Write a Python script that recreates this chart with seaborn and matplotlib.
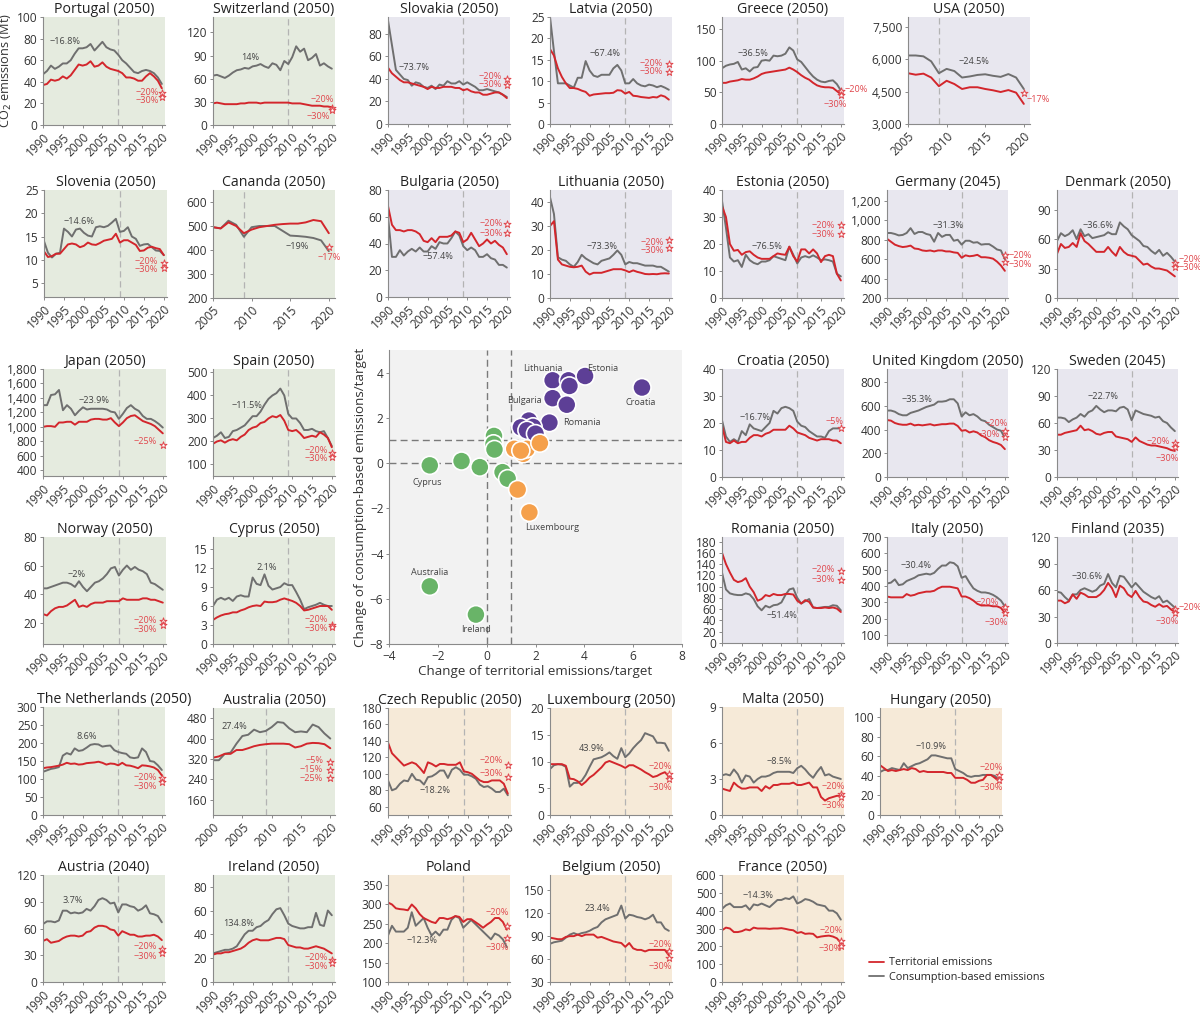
import matplotlib
matplotlib.use("Agg")
import matplotlib.pyplot as plt
from matplotlib.lines import Line2D
from matplotlib.ticker import FuncFormatter
import pandas as pd
import seaborn as sns

W, H = 1200, 1014
M = "\u2212"

YEARS_90 = list(range(1990, 2021))
YEARS_00 = list(range(2000, 2021))
YEARS_05 = list(range(2005, 2021))

# ---- territorial (terr) and consumption-based (cons) emissions, Mt CO2 ----
portugal_terr = [37, 38, 42, 41, 42, 45, 43, 46, 51, 56, 55, 56, 59, 54, 55, 58, 54, 52, 51, 50, 48, 44, 44, 43, 41, 41, 45, 48, 45, 41, 34]
portugal_cons = [47, 50, 55, 52, 54, 57, 57, 60, 66, 71, 71, 72, 75, 69, 73, 77, 72, 70, 69, 65, 60, 57, 53, 49, 48, 50, 51, 50, 48, 44, 38]
switzerland_terr = [28, 29, 28, 27, 27, 27, 27, 28, 28, 29, 29, 29, 28, 29, 29, 29, 29, 29, 29, 29, 28, 28, 28, 27, 26, 25, 25, 25, 24, 24, 23]
switzerland_cons = [64, 65, 63, 61, 64, 68, 71, 72, 74, 73, 76, 77, 79, 76, 74, 80, 78, 71, 83, 79, 88, 102, 95, 99, 84, 87, 92, 77, 80, 76, 73]
slovakia_terr = [50, 45, 42, 39, 37, 37, 36, 35, 34, 33, 31, 33, 32, 32, 33, 33, 33, 32, 32, 30, 31, 29, 28, 28, 26, 26, 27, 28, 28, 26, 23]
slovakia_cons = [92, 70, 48, 44, 40, 39, 34, 37, 36, 33, 32, 34, 31, 35, 34, 38, 36, 36, 38, 35, 37, 35, 33, 30, 30, 31, 30, 29, 28, 26, 24]
latvia_terr = [17.5, 16, 13, 11, 9.5, 8.4, 8.4, 8.2, 7.8, 7.5, 6.6, 6.9, 7, 7.1, 7.2, 7.2, 7.3, 7.9, 7.8, 7.1, 7.5, 6.6, 6.5, 6.3, 6.2, 6.1, 6.3, 6.2, 6.7, 6.4, 5.7]
latvia_cons = [25, 17, 9.5, 9.5, 9.5, 9, 8.5, 10.8, 10.8, 14.7, 12.5, 11.3, 11, 11.5, 11.5, 11.5, 13, 13.8, 12.5, 9.5, 9.5, 10.5, 9.5, 9, 8.8, 9.2, 9, 8.6, 8.9, 8.5, 8]
greece_terr = [65, 65, 67, 68, 69, 71, 70, 70, 72, 75, 79, 81, 82, 83, 84, 85, 86, 89, 86, 82, 77, 73, 70, 65, 61, 59, 58, 58, 57, 52, 47]
greece_cons = [88, 92, 94, 95, 98, 86, 88, 83, 89, 90, 100, 101, 100, 108, 107, 108, 111, 121, 116, 102, 98, 90, 82, 75, 70, 67, 66, 68, 69, 63, 53]
usa_terr = [5350, 5280, 5330, 5150, 4750, 5000, 4850, 4620, 4700, 4700, 4620, 4560, 4480, 4570, 4450, 3930]
usa_cons = [6170, 6170, 6130, 5900, 5350, 5550, 5450, 5150, 5200, 5270, 5300, 5230, 5180, 5310, 5150, 4620]
slovenia_terr = [11.8, 10.6, 10.8, 11.3, 11.3, 12.3, 13.3, 13.5, 13.3, 12.7, 13, 13.7, 13.3, 13.2, 13.6, 14.1, 14.3, 14.5, 15.6, 13.7, 14.2, 14.2, 13.7, 13.2, 11.9, 12, 12.6, 12.8, 12.5, 12.3, 11]
slovenia_cons = [14, 11.5, 10.5, 11.3, 11.5, 16.7, 16, 15, 16.5, 16.7, 15.8, 15.2, 15, 17, 17.2, 17, 17.3, 18, 18.8, 16, 16.2, 17, 15, 14.5, 13, 13.3, 13.4, 12.7, 12, 11.9, 11]
canada_terr = [495, 490, 515, 500, 470, 485, 495, 500, 505, 508, 510, 510, 515, 525, 520, 470]
canada_cons = [495, 490, 522, 505, 455, 495, 500, 500, 500, 480, 460, 458, 455, 450, 440, 395]
bulgaria_terr = [68, 54, 50, 50, 49, 50, 50, 49, 47, 42, 41, 44, 41, 45, 45, 45, 46, 49, 48, 41, 43, 48, 43, 38, 40, 43, 40, 42, 39, 37, 32]
bulgaria_cons = [60, 30, 30, 35, 31, 34, 36, 34, 37, 34, 34, 38, 36, 41, 40, 40, 44, 49, 46, 38, 35, 37, 35, 30, 30, 32, 29, 28, 24, 24, 22]
lithuania_terr = [30, 32, 16, 14, 13.5, 13, 12.8, 13, 13.5, 11, 9.8, 10.5, 10.5, 10.5, 11, 11.5, 12, 12, 12, 11.5, 10.8, 11.5, 10.9, 10.5, 10, 9.9, 10, 9.9, 10.2, 10.3, 10.2]
lithuania_cons = [42, 35, 17, 16, 15.5, 14, 13, 15, 18, 16.5, 15.5, 14.5, 14, 15.5, 16, 16.5, 18, 19.8, 18, 14, 15, 14.5, 14.5, 14, 13.5, 13.5, 13.5, 13, 13, 12, 11]
estonia_terr = [34, 30, 20, 17.5, 17.8, 16, 17, 17.3, 16, 15, 14.5, 14.5, 14.5, 15.5, 16.5, 16.2, 16, 19, 15.5, 13.5, 18, 18, 16.5, 18, 16.5, 13.3, 15.5, 16, 15.5, 9, 6.5]
estonia_cons = [36, 26, 15, 13.5, 14, 11.5, 16, 14, 13, 12.5, 13.5, 13.5, 14, 15.5, 15, 14.5, 14, 19, 16, 12.8, 15, 15.5, 15, 15.8, 15, 14, 14.3, 14, 13.5, 9, 8]
germany_terr = [810, 780, 750, 735, 725, 730, 740, 710, 705, 690, 685, 690, 680, 690, 690, 680, 680, 670, 665, 615, 640, 630, 635, 645, 620, 620, 615, 605, 575, 535, 480]
germany_cons = [870, 870, 860, 845, 850, 870, 920, 860, 880, 880, 860, 850, 780, 870, 830, 850, 850, 790, 800, 750, 790, 790, 770, 775, 750, 755, 755, 730, 700, 690, 600]
denmark_terr = [45, 55, 51, 52, 56, 52, 66, 58, 55, 51, 47, 47, 47, 52, 47, 43, 52, 47, 44, 43, 42, 38, 34, 35, 32, 30, 30, 29, 28, 25, 22]
denmark_cons = [58, 66, 63, 65, 69, 60, 70, 63, 65, 61, 62, 63, 64, 67, 65, 65, 77, 73, 70, 64, 61, 58, 53, 52, 48, 45, 49, 43, 46, 42, 37]
japan_terr = [1000, 1010, 1010, 1000, 1060, 1060, 1070, 1070, 1030, 1070, 1070, 1070, 1100, 1110, 1110, 1100, 1100, 1120, 1060, 1010, 1060, 1120, 1150, 1160, 1120, 1080, 1060, 1040, 1010, 960, 910]
japan_cons = [1300, 1300, 1440, 1450, 1510, 1230, 1300, 1250, 1160, 1220, 1270, 1240, 1250, 1250, 1250, 1250, 1240, 1210, 1200, 1110, 1180, 1260, 1300, 1250, 1220, 1150, 1110, 1110, 1080, 1040, 990]
spain_terr = [190, 200, 205, 195, 205, 210, 205, 220, 230, 250, 260, 265, 280, 285, 300, 310, 305, 315, 290, 250, 245, 250, 235, 215, 220, 225, 220, 240, 230, 215, 175]
spain_cons = [215, 225, 240, 215, 220, 245, 250, 260, 270, 290, 310, 310, 330, 360, 385, 400, 410, 430, 400, 320, 300, 300, 280, 250, 250, 255, 245, 240, 245, 215, 180]
norway_terr = [26, 25, 28, 30, 31, 31, 32, 34, 36, 31, 32, 31, 33, 34, 34, 34, 35, 35, 35, 35, 37, 36, 36, 36, 36, 37, 37, 36, 36, 35, 34]
norway_cons = [44, 44, 45, 46, 47, 48, 48, 47, 45, 49, 45, 42, 45, 48, 49, 51, 54, 58, 59, 53, 57, 60, 57, 59, 57, 56, 54, 48, 47, 45, 43]
cyprus_terr = [3.8, 4.2, 4.5, 4.7, 4.8, 5, 5, 5.3, 5.5, 5.8, 6, 6.1, 6, 6.7, 6.6, 6.6, 6.7, 7, 7.2, 7, 6.8, 6.5, 6, 5.3, 5.4, 5.6, 5.8, 6, 6, 6, 5.4]
cyprus_cons = [6, 7, 7.3, 7, 7.3, 6.8, 7.5, 7.7, 7.5, 7.5, 10.5, 9.5, 9.3, 11, 9.2, 8.6, 8.8, 9, 9.6, 9.3, 9.3, 8.2, 7, 5.5, 5.8, 6, 6.2, 6.5, 6.2, 6, 6]
croatia_terr = [19, 13, 12.5, 13.5, 12.5, 13, 13, 14.5, 15.5, 15.5, 15, 16, 16.5, 17.5, 17.5, 17.5, 17.5, 19, 18, 16.5, 16, 15.5, 14.5, 14, 13.5, 14, 14, 14, 13.5, 13.5, 12.5]
croatia_cons = [21, 15, 13, 14, 13, 17, 15.5, 19.5, 18, 17.5, 17, 18.5, 20, 24.5, 23.5, 25.5, 26, 25.5, 24.5, 20.5, 19, 18.5, 17, 16, 15, 15, 14.5, 17, 18, 18, 18]
uk_terr = [480, 475, 455, 445, 440, 440, 450, 435, 440, 435, 440, 445, 435, 440, 445, 445, 450, 450, 430, 390, 395, 375, 385, 375, 350, 335, 310, 295, 285, 270, 235]
uk_cons = [560, 560, 550, 530, 520, 520, 540, 550, 560, 575, 590, 600, 610, 635, 635, 640, 655, 655, 620, 510, 545, 520, 530, 510, 480, 470, 440, 420, 400, 390, 330]
sweden_terr = [47, 47, 49, 50, 51, 52, 57, 52, 53, 51, 48, 47, 49, 50, 50, 45, 44, 43, 42, 39, 44, 40, 38, 36, 35, 35, 34, 33, 32, 30, 29]
sweden_cons = [66, 66, 65, 61, 64, 66, 70, 67, 72, 74, 79, 75, 72, 74, 74, 73, 77, 78, 75, 63, 74, 72, 70, 69, 68, 66, 67, 62, 60, 55, 51]
romania_terr = [160, 140, 125, 112, 108, 110, 115, 100, 90, 75, 78, 85, 83, 87, 85, 85, 87, 87, 86, 75, 70, 76, 73, 63, 62, 62, 63, 62, 63, 61, 55]
romania_cons = [125, 95, 88, 86, 85, 85, 88, 86, 78, 65, 58, 66, 63, 67, 68, 72, 85, 95, 97, 80, 70, 74, 78, 63, 62, 63, 64, 64, 67, 66, 58]
italy_terr = [335, 330, 330, 330, 330, 350, 340, 345, 355, 360, 365, 365, 370, 385, 395, 395, 395, 390, 385, 335, 335, 325, 310, 290, 280, 280, 280, 275, 275, 265, 235]
italy_cons = [415, 420, 440, 405, 410, 430, 440, 450, 465, 470, 475, 470, 480, 505, 525, 525, 545, 540, 520, 450, 460, 420, 385, 370, 360, 360, 355, 345, 330, 310, 275]
finland_terr = [48, 48, 45, 47, 55, 50, 57, 55, 52, 52, 52, 55, 60, 68, 62, 52, 65, 62, 55, 52, 59, 52, 47, 46, 43, 41, 44, 41, 42, 38, 35]
finland_cons = [58, 57, 52, 48, 55, 55, 60, 62, 60, 58, 60, 65, 67, 78, 68, 63, 76, 75, 69, 63, 68, 63, 58, 55, 52, 50, 53, 46, 48, 44, 40]
netherlands_terr = [130, 132, 133, 135, 137, 140, 145, 142, 143, 140, 141, 144, 145, 146, 148, 145, 140, 143, 142, 138, 145, 138, 137, 134, 130, 138, 137, 135, 132, 125, 110]
netherlands_cons = [120, 124, 128, 130, 133, 165, 172, 168, 185, 178, 180, 187, 195, 197, 196, 190, 192, 193, 180, 175, 172, 170, 160, 158, 160, 185, 175, 150, 148, 138, 125]
australia_terr = [325, 330, 340, 340, 355, 355, 362, 370, 375, 378, 380, 380, 380, 378, 365, 370, 380, 383, 382, 378, 362]
australia_cons = [315, 315, 340, 345, 380, 410, 415, 435, 425, 430, 445, 465, 462, 440, 425, 428, 425, 455, 445, 420, 400]
austria_terr = [46, 48, 44, 45, 46, 49, 51, 52, 52, 51, 52, 56, 57, 61, 63, 63, 62, 59, 58, 52, 57, 55, 53, 53, 51, 51, 52, 52, 53, 51, 47]
austria_cons = [65, 68, 68, 67, 69, 80, 80, 77, 78, 77, 78, 82, 80, 85, 92, 94, 92, 88, 89, 78, 87, 87, 85, 84, 80, 82, 86, 77, 76, 74, 67]
ireland_terr = [23, 24, 24, 25, 25, 26, 27, 28, 30, 33, 35, 36, 35, 35, 35, 36, 37, 37, 36, 31, 30, 29, 29, 28, 28, 29, 30, 29, 28, 26, 24]
ireland_cons = [24, 25, 26, 27, 27, 28, 30, 35, 40, 43, 43, 46, 47, 50, 52, 57, 61, 62, 56, 49, 47, 46, 45, 45, 46, 46, 58, 48, 47, 60, 56]
czech_terr = [138, 125, 120, 115, 110, 112, 114, 112, 107, 101, 114, 112, 109, 112, 112, 111, 111, 111, 114, 103, 102, 100, 96, 92, 90, 90, 92, 92, 92, 88, 76]
czech_cons = [92, 80, 82, 88, 92, 91, 100, 93, 92, 87, 96, 97, 100, 104, 104, 95, 105, 108, 105, 99, 99, 97, 94, 87, 84, 85, 82, 78, 78, 82, 74]
luxembourg_terr = [9.5, 9.5, 9.5, 9.5, 9.2, 6.8, 6.7, 6.3, 5.6, 6.2, 7, 7.5, 8.2, 8.9, 9.8, 10.1, 9.8, 9.5, 9.2, 8.8, 9.3, 9.3, 8.9, 8.5, 8, 7.6, 7.1, 7.3, 7.7, 8, 7.2]
luxembourg_cons = [8.6, 9.3, 9.5, 9.4, 9, 5.3, 6, 6, 6.4, 7.5, 9, 10.4, 10.6, 10.8, 11.2, 11.7, 11, 10.5, 12.5, 10.8, 11.5, 12.5, 13.3, 14, 15.3, 15, 14.7, 13.5, 13.5, 13.4, 12]
malta_terr = [2.2, 2.1, 2, 2.7, 2.4, 2.2, 2.2, 2.3, 2.3, 2.3, 2, 2.4, 2.2, 2.5, 2.5, 2.6, 2.6, 2.6, 2.7, 2.5, 2.5, 2.6, 2.7, 2.3, 2.3, 1.5, 1.2, 1.4, 1.5, 1.6, 1.6]
malta_cons = [3.3, 3.4, 3.3, 3.8, 3.4, 2.7, 3.3, 3.2, 2.7, 3, 3.2, 3.2, 3.3, 3.5, 3.6, 3.6, 3.6, 3.6, 3.5, 3.9, 4.1, 3.8, 3.4, 3.1, 3.6, 4, 3.3, 3.4, 3.2, 3.1, 3]
hungary_terr = [51, 48, 45, 46, 45, 46, 47, 46, 48, 47, 44, 45, 44, 44, 44, 44, 44, 43, 43, 38, 38, 38, 36, 33, 33, 35, 36, 41, 41, 38, 35]
hungary_cons = [44, 46, 46, 48, 47, 46, 53, 48, 50, 52, 53, 55, 57, 61, 61, 60, 59, 58, 58, 47, 45, 43, 40, 39, 40, 40, 41, 41, 41, 40, 36]
poland_terr = [305, 300, 290, 288, 287, 285, 300, 290, 275, 265, 260, 255, 252, 265, 265, 262, 265, 270, 268, 255, 262, 262, 255, 248, 240, 248, 255, 265, 265, 255, 235]
poland_cons = [220, 245, 230, 230, 230, 240, 280, 245, 255, 265, 240, 220, 230, 220, 235, 235, 260, 270, 265, 240, 250, 260, 250, 240, 230, 220, 210, 225, 220, 210, 190]
belgium_terr = [88, 87, 86, 86, 89, 90, 90, 92, 90, 92, 92, 92, 88, 89, 87, 85, 83, 82, 81, 76, 81, 74, 72, 72, 70, 72, 72, 72, 72, 72, 65]
belgium_cons = [80, 82, 83, 84, 88, 92, 94, 92, 94, 95, 97, 100, 102, 108, 112, 114, 116, 118, 130, 113, 118, 117, 115, 114, 112, 114, 118, 108, 108, 100, 97]
france_terr = [290, 305, 300, 280, 280, 285, 295, 290, 305, 300, 300, 300, 298, 300, 300, 302, 298, 293, 290, 275, 280, 270, 272, 270, 250, 255, 258, 260, 255, 245, 220]
france_cons = [410, 430, 440, 420, 420, 420, 430, 405, 435, 430, 440, 430, 420, 440, 460, 460, 470, 465, 480, 440, 450, 465, 460, 450, 435, 430, 425, 400, 400, 385, 350]

# ---- scatter: change of emissions relative to target ----
scatter_territorial = [-2.33, -1.03, -0.28, 0.30, 0.30, 0.30, 0.28, 0.32, 0.65, 0.86, -2.33, -0.44,
                       2.70, 3.35, 3.39, 4.03, 6.36, 2.70, 3.28, 2.57, 1.73, 1.54, 1.40, 2.05, 1.90, 1.65, 2.00,
                       1.13, 1.50, 1.64, 2.18, 1.27, 1.75, 1.40]
scatter_consumption = [-0.10, 0.09, -0.18, 1.00, 0.70, 1.20, 0.85, 0.60, -0.40, -0.69, -5.45, -6.70,
                       3.66, 3.66, 3.41, 3.85, 3.34, 2.87, 2.58, 1.79, 1.88, 1.51, 1.58, 1.14, 1.60, 1.45, 1.30,
                       0.63, 0.41, 0.63, 0.88, -1.17, -2.18, 0.55]
scatter_group = ["green"] * 12 + ["purple"] * 15 + ["orange"] * 7
scatter_names = ["Lithuania", "Estonia", "Bulgaria", "Croatia", "Romania", "Cyprus", "Luxembourg", "Australia", "Ireland"]
scatter_name_x = [2.3, 4.75, 1.55, 6.3, 3.9, -2.45, 2.7, -2.33, -0.44]
scatter_name_y = [4.2, 4.2, 2.75, 2.68, 1.8, -0.88, -2.84, -4.82, -7.36]

RED = "#d3262c"
GREY = "#6f6f6f"
TXT_RED = "#e0474d"
BG = {"g": "#e5ebdf", "p": "#e8e7ef", "o": "#f6ead8"}

T = lambda s: s.replace("-", M)

panels = [
    # title, years, terr, cons, bg, box(l,t,r,b px), ylim, yticks, pct(text,x,y), targets, labels
    ("Portugal (2050)", YEARS_90, portugal_terr, portugal_cons, "g", (43, 17, 165, 125), (0, 100), range(0, 101, 20),
     ("-16.8%", 1995.5, 77), [29.6, 25.9], [("-20%", 2019.2, 30.5, "right"), ("-30%", 2019.2, 23, "right")]),
    ("Switzerland (2050)", YEARS_90, switzerland_terr, switzerland_cons, "g", (213, 17, 335, 125), (0, 140), range(0, 121, 30),
     ("14%", 1999.5, 88), [22.4, 19.6], [("-20%", 2020.6, 33, "right"), ("-30%", 2019.5, 10.8, "right")]),
    ("Slovakia (2050)", YEARS_90, slovakia_terr, slovakia_cons, "p", (388, 17, 510, 124), (0, 95), range(0, 81, 20),
     ("-73.7%", 1996.5, 50), [40, 35], [("-20%", 2018.7, 42, "right"), ("-30%", 2018.7, 35.5, "right")]),
    ("Latvia (2050)", YEARS_90, latvia_terr, latvia_cons, "p", (550, 17, 672, 124), (0, 25), range(0, 26, 5),
     ("-67.4%", 2003.9, 16.4), [14, 12.25], [("-20%", 2018.6, 14.2, "right"), ("-30%", 2018.6, 12.2, "right")]),
    ("Greece (2050)", YEARS_90, greece_terr, greece_cons, "p", (722, 17, 844, 124), (0, 169), range(0, 151, 50),
     ("-36.5%", 1997.8, 112), [52, 45.5], [("-20%", 2021, 54, "left"), ("-30%", 2018.7, 31, "center")]),
    ("USA (2050)", YEARS_05, usa_terr, usa_cons, "p", (908, 17, 1030, 124), (3000, 7950), range(3000, 7501, 1500),
     ("-24.5%", 2013.6, 5870), [4440], [("-17%", 2020.4, 4150, "left")]),

    ("Slovenia (2050)", YEARS_90, slovenia_terr, slovenia_cons, "g", (44, 190, 167, 297), (2, 25), range(5, 26, 5),
     ("-14.6%", 1998.7, 18.2), [9.4, 8.3], [("-20%", 2018.6, 9.7, "right"), ("-30%", 2018.6, 8.0, "right")]),
    ("Cananda (2050)", YEARS_05, canada_terr, canada_cons, "g", (213, 190, 335, 298), (200, 650), range(200, 601, 100),
     ("-19%", 2015.9, 413), [411], [("-17%", 2020, 367, "center")]),
    ("Bulgaria (2050)", YEARS_90, bulgaria_terr, bulgaria_cons, "p", (388, 190, 510, 297), (0, 80), range(0, 81, 20),
     ("-57.4%", 2002.5, 30), [54.4, 47.6], [("-20%", 2019, 54.6, "right"), ("-30%", 2019, 47.8, "right")]),
    ("Lithuania (2050)", YEARS_90, lithuania_terr, lithuania_cons, "p", (550, 190, 672, 298), (0, 45), range(0, 41, 10),
     ("-73.3%", 2003.1, 21.3), [24, 21], [("-20%", 2018.7, 23.3, "right"), ("-30%", 2018.7, 19.6, "right")]),
    ("Estonia (2050)", YEARS_90, estonia_terr, estonia_cons, "p", (722, 190, 844, 298), (0, 40), range(0, 41, 10),
     ("-76.5%", 2001.3, 19), [27.2, 23.8], [("-20%", 2018.6, 26.9, "right"), ("-30%", 2018.6, 23.5, "right")]),
    ("Germany (2045)", YEARS_90, germany_terr, germany_cons, "p", (887, 190, 1008, 298), (200, 1313), range(200, 1201, 200),
     ("-31.3%", 2005.5, 942), [648, 567], [("-20%", 2021, 643, "left"), ("-30%", 2021, 550, "left")]),
    ("Denmark (2050)", YEARS_90, denmark_terr, denmark_cons, "p", (1057, 190, 1178, 298), (0, 110), range(0, 91, 30),
     ("-36.6%", 2000.4, 73.6), [36, 31.5], [("-20%", 2021, 38.8, "left"), ("-30%", 2021, 30.7, "left")]),

    ("Japan (2050)", YEARS_90, japan_terr, japan_cons, "g", (43, 369, 166, 476), (320, 1800), range(400, 1801, 200),
     ("-23.9%", 2002.7, 1360), [750], [("-25%", 2018.5, 792, "right")]),
    ("Spain (2050)", YEARS_90, spain_terr, spain_cons, "g", (213, 369, 335, 476), (50, 515), range(100, 501, 100),
     ("-11.5%", 1998.6, 355), [152, 133], [("-20%", 2019, 162, "right"), ("-30%", 2019, 126, "right")]),
    ("Croatia (2050)", YEARS_90, croatia_terr, croatia_cons, "p", (722, 369, 844, 477), (0, 40), range(0, 41, 10),
     ("-16.7%", 1998.3, 22.2), [18], [("-5%", 2018.5, 20.7, "center")]),
    ("United Kingdom (2050)", YEARS_90, uk_terr, uk_cons, "p", (887, 369, 1008, 477), (0, 910), range(0, 801, 200),
     ("-35.3%", 1997.6, 657), [384, 336], [("-20%", 2020.7, 455, "right"), ("-30%", 2018.8, 354, "right")]),
    ("Sweden (2045)", YEARS_90, sweden_terr, sweden_cons, "p", (1057, 369, 1178, 477), (0, 120), range(0, 121, 30),
     ("-22.7%", 2001.7, 89), [37.6, 32.9], [("-20%", 2018.7, 40, "right"), ("-30%", 2018, 21, "center")]),

    ("Norway (2050)", YEARS_90, norway_terr, norway_cons, "g", (43, 537, 166, 644), (5, 80), range(20, 81, 20),
     ("-2%", 1998.5, 54), [20.8, 18.2], [("-20%", 2018.6, 21.5, "right"), ("-30%", 2018.6, 15, "right")]),
    ("Cyprus (2050)", YEARS_90, cyprus_terr, cyprus_cons, "g", (213, 537, 335, 644), (0, 16.9), range(0, 16, 3),
     ("2.1%", 2003.6, 12.1), [3.04, 2.66], [("-20%", 2019, 3.8, "right"), ("-30%", 2019, 2.4, "right")]),
    ("Romania (2050)", YEARS_90, romania_terr, romania_cons, "p", (722, 537, 844, 643), (0, 188), range(0, 181, 20),
     ("-51.4%", 2005.1, 48), [128, 112], [("-20%", 2018.6, 129.7, "right"), ("-30%", 2018.6, 112, "right")]),
    ("Italy (2050)", YEARS_90, italy_terr, italy_cons, "p", (887, 537, 1008, 643), (50, 700), range(100, 701, 100),
     ("-30.4%", 1997.4, 527), [268, 234.5], [("-20%", 2018.5, 297, "right"), ("-30%", 2017.8, 173, "center")]),
    ("Finland (2035)", YEARS_90, finland_terr, finland_cons, "p", (1057, 537, 1178, 643), (0, 120), range(0, 121, 30),
     ("-30.6%", 1997.6, 75), [38.4, 33.6], [("-20%", 2021, 40, "left"), ("-30%", 2018, 24.5, "center")]),

    ("The Netherlands (2050)", YEARS_90, netherlands_terr, netherlands_cons, "g", (43, 707, 165, 815), (0, 300), range(0, 301, 50),
     ("8.6%", 2001, 217), [104, 91], [("-20%", 2018.7, 104, "right"), ("-30%", 2018.7, 79, "right")]),
    ("Australia (2050)", YEARS_00, australia_terr, australia_cons, "g", (213, 708, 335, 815), (100, 520), range(160, 481, 80),
     ("27.4%", 2003.6, 446), [309, 276, 244], [("-5%", 2018.8, 312, "right"), ("-15%", 2018.8, 277, "right"), ("-25%", 2018.8, 242, "right")]),
    ("Czech Republic (2050)", YEARS_90, czech_terr, czech_cons, "o", (388, 708, 511, 815), (50, 180), range(60, 181, 20),
     ("-18.2%", 2001.9, 80), [110.4, 96.6], [("-20%", 2018.7, 116, "right"), ("-30%", 2018.7, 100, "right")]),
    ("Luxembourg (2050)", YEARS_90, luxembourg_terr, luxembourg_cons, "o", (550, 708, 672, 815), (0, 20), range(0, 21, 5),
     ("43.9%", 2000.6, 12.5), [7.6, 6.65], [("-20%", 2020.7, 9, "right"), ("-30%", 2020.7, 5.2, "right")]),
    ("Malta (2050)", YEARS_90, malta_terr, malta_cons, "o", (722, 707, 844, 815), (0, 9), range(0, 10, 3),
     ("-8.5%", 2004.4, 4.44), [1.76, 1.54], [("-20%", 2018.2, 2.4, "center"), ("-30%", 2018, 0.75, "center")]),
    ("Hungary (2050)", YEARS_90, hungary_terr, hungary_cons, "o", (880, 708, 1002, 815), (0, 109.5), range(0, 101, 20),
     ("-10.9%", 2003, 70.6), [40.8, 35.7], [("-20%", 2018, 48.4, "center"), ("-30%", 2018, 28, "center")]),

    ("Austria (2040)", YEARS_90, austria_terr, austria_cons, "g", (43, 875, 165, 982), (0, 120), range(0, 121, 30),
     ("3.7%", 1997.5, 91), [36.8, 32.2], [("-20%", 2018.7, 39.6, "right"), ("-30%", 2018.7, 28.4, "right")]),
    ("Ireland (2050)", YEARS_90, ireland_terr, ireland_cons, "g", (213, 875, 335, 982), (0, 89.8), range(0, 81, 20),
     ("134.8%", 1996.6, 49.4), [18.4, 16.1], [("-20%", 2019, 20.8, "right"), ("-30%", 2019, 12.6, "right")]),
    ("Poland", YEARS_90, poland_terr, poland_cons, "o", (388, 875, 510, 982), (100, 376), range(100, 351, 50),
     ("-12.3%", 1998.5, 206), [244, 213.5], [("-20%", 2020.5, 278, "right"), ("-30%", 2020.5, 188, "right")]),
    ("Belgium (2050)", YEARS_90, belgium_terr, belgium_cons, "o", (550, 875, 672, 982), (30, 170), range(30, 151, 30),
     ("23.4%", 2001.9, 126), [70.4, 61.6], [("-20%", 2020.7, 79, "right"), ("-30%", 2020.7, 50.5, "right")]),
    ("France (2050)", YEARS_90, france_terr, france_cons, "o", (722, 875, 844, 982), (0, 600), range(0, 601, 100),
     ("-14.3%", 1999, 484), [232, 203], [("-20%", 2017.5, 288, "center"), ("-30%", 2017.3, 190, "center")]),
]

sns.set_style("ticks")
plt.rcParams["font.family"] = ["Open Sans", "DejaVu Sans"]
plt.rcParams["axes.unicode_minus"] = True

fig = plt.figure(figsize=(W / 100, H / 100), dpi=100)


def add_ax(l, t, r, b):
    return fig.add_axes([l / W, 1 - b / H, (r - l) / W, (b - t) / H])


def style_ax(ax, size=8.6):
    for s in ("top", "right"):
        ax.spines[s].set_visible(False)
    for s in ("left", "bottom"):
        ax.spines[s].set_color("#8a8a8a")
        ax.spines[s].set_linewidth(0.8)
    ax.tick_params(length=2.5, width=0.7, color="#8a8a8a", labelsize=size, labelcolor="#333333", pad=1.5)


thousands = FuncFormatter(lambda v, p: f"{v:,.0f}")

for (title, years, terr, cons, bg, box, ylim, yticks, pct, targets, labels) in panels:
    ax = add_ax(*box)
    n = len(years)
    df = pd.DataFrame({"year": years * 2, "value": cons + terr,
                       "kind": ["Consumption-based emissions"] * n + ["Territorial emissions"] * n})
    sns.lineplot(data=df, x="year", y="value", hue="kind", ax=ax, legend=False, linewidth=1.4,
                 palette={"Consumption-based emissions": GREY, "Territorial emissions": RED})
    ax.set_facecolor(BG[bg])
    ax.axvline(2009, color="#b3b3b3", lw=0.9, ls=(0, (5, 3)), zorder=0.5)
    ax.scatter([2020] * len(targets), targets, marker="*", s=28, facecolor="white",
               edgecolor=TXT_RED, linewidth=0.7, zorder=5, clip_on=False)
    ax.text(pct[1], pct[2], T(pct[0]), fontsize=6.6, color="#444444", ha="center", va="center")
    for txt, lx, ly, ha in labels:
        ax.text(lx, ly, T(txt), fontsize=6.6, color=TXT_RED, ha=ha, va="center", clip_on=False)
    x0 = years[0]
    ax.set_xlim(x0, 2020.8)
    ax.set_xticks(range(x0, 2021, 5))
    ax.set_ylim(*ylim)
    ax.set_yticks(list(yticks))
    ax.yaxis.set_major_formatter(thousands)
    ax.set_xlabel("")
    ax.set_ylabel("")
    style_ax(ax)
    plt.setp(ax.get_xticklabels(), rotation=45, ha="right", rotation_mode="anchor")
    if title.startswith("The Netherlands"):
        ax.set_title(title, fontsize=10.2, pad=3, color="#222222", x=0.58)
    else:
        ax.set_title(title, fontsize=10.2, pad=3, color="#222222")
    if title.startswith("Portugal"):
        ax.set_ylabel("CO$_2$ emissions (Mt)", fontsize=9.2, color="#333333", labelpad=2)

# central scatter panel
sax = add_ax(389, 350, 682, 644)
sax.set_facecolor("#f2f2f2")
sdf = pd.DataFrame({"terr": scatter_territorial, "cons": scatter_consumption, "group": scatter_group})
for v in (0, 1):
    sax.axvline(v, color="#7a7a7a", lw=1.0, ls=(0, (5, 3)), zorder=1)
    sax.axhline(v, color="#7a7a7a", lw=1.0, ls=(0, (5, 3)), zorder=1)
sns.scatterplot(data=sdf, x="terr", y="cons", hue="group", ax=sax, legend=False, s=170,
                palette={"green": "#69b468", "purple": "#5d3f96", "orange": "#f5a04b"},
                edgecolor="white", linewidth=1.2, zorder=3)
for name, nx, ny in zip(scatter_names, scatter_name_x, scatter_name_y):
    sax.text(nx, ny, name, fontsize=6.6, color="#444444", ha="center", va="center")
sax.set_xlim(-4, 8)
sax.set_ylim(-8, 5)
sax.set_xticks(range(-4, 9, 2))
sax.set_yticks(range(-8, 5, 2))
sax.set_xlabel("Change of territorial emissions/target", fontsize=9.6, color="#333333", labelpad=2)
sax.set_ylabel("Change of consumption-based emissions/target", fontsize=9.6, color="#333333", labelpad=2)
style_ax(sax)

handles = [Line2D([], [], color=RED, lw=1.3), Line2D([], [], color=GREY, lw=1.3)]
fig.legend(handles, ["Territorial emissions", "Consumption-based emissions"], loc="upper left",
           bbox_to_anchor=(864 / W, 1 - 952 / H), frameon=False, fontsize=7.8, handlelength=1.3,
           handletextpad=0.5, labelspacing=0.35, borderpad=0)

fig.savefig("out.png", dpi=100)
